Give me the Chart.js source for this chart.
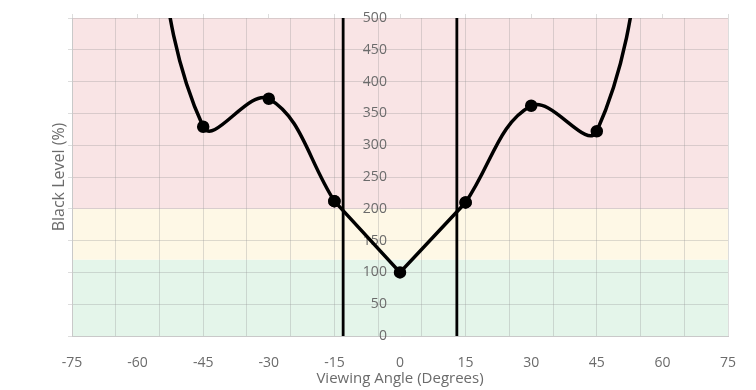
<!DOCTYPE html>
<html>
<head>
<meta charset="utf-8">
<script src="https://cdn.jsdelivr.net/npm/chart.js@4.4.1/dist/chart.umd.min.js"></script>
<style>
  html, body { margin: 0; padding: 0; background: #fff; }
  #wrap { width: 756px; height: 390px; }
</style>
</head>
<body>
<div id="wrap"><canvas id="chart"></canvas></div>
<script>
// measured points (degrees -> black level %)
const angles = [-60, -45, -30, -15, 0, 15, 30, 45, 60];
const blackLevel = [820, 329, 373, 212, 100, 210, 362, 322, 820];
// vertical markers where the curve crosses 200%
const cutoffAngles = [-13, 13];
// background zones
const bandLimits = [0, 120, 200, 500];
const bandColors = ['#e4f5ea', '#fef8e6', '#f9e4e5'];

const gridColor = 'rgba(150, 150, 150, 0.32)';
const textColor = '#6b6b6b';

const pts = angles.map((a, i) => ({ x: a, y: blackLevel[i] }));

const bandPlugin = {
    id: 'bands',
    beforeDraw(chart) {
        const { ctx, chartArea, scales: { y } } = chart;
        ctx.save();
        for (let i = 0; i < bandColors.length; i++) {
            const top = y.getPixelForValue(bandLimits[i + 1]);
            const bottom = y.getPixelForValue(bandLimits[i]);
            ctx.fillStyle = bandColors[i];
            ctx.fillRect(chartArea.left, top, chartArea.right - chartArea.left, bottom - top);
        }
        ctx.restore();
    }
};

const lineStyle = {
    borderColor: '#000',
    backgroundColor: '#000',
    borderWidth: 3.5,
    pointRadius: 4.5,
    pointHoverRadius: 4.5,
    fill: false
};

const datasets = [
    { ...lineStyle, data: pts.slice(0, 4), tension: 0.4 },
    { ...lineStyle, data: pts.slice(3, 6), tension: 0 },
    { ...lineStyle, data: pts.slice(5), tension: 0.4 }
];
cutoffAngles.forEach(a => {
    datasets.push({
        data: [{ x: a, y: bandLimits[0] }, { x: a, y: bandLimits[bandLimits.length - 1] }],
        borderColor: '#000',
        borderWidth: 2.8,
        pointRadius: 0,
        tension: 0
    });
});

new Chart(document.getElementById('chart'), {
    type: 'line',
    data: { datasets },
    options: {
        responsive: true,
        maintainAspectRatio: false,
        animation: false,
        layout: { padding: { left: 45, right: 28, top: 0, bottom: 0 } },
        elements: { line: { capBezierPoints: false } },
        plugins: { legend: { display: false }, tooltip: { enabled: false } },
        scales: {
            x: {
                type: 'linear', min: -75, max: 75, position: 'bottom',
                afterFit: s => { s.height = 54; },
                ticks: {
                    stepSize: 5, autoSkip: false, maxRotation: 0, padding: 19,
                    color: textColor, font: { family: 'Open Sans', size: 14 },
                    callback: v => (v % 15 === 0 ? v : '')
                },
                grid: {
                    drawTicks: false,
                    color: c => (c.tick && c.tick.value % 10 !== 0 ? gridColor : 'transparent')
                },
                border: { color: '#c9c9c9' },
                title: {
                    display: true, text: 'Viewing Angle (Degrees)', color: textColor,
                    font: { family: 'Open Sans', size: 15 }, padding: { top: 0, bottom: 2 }
                }
            },
            xTop: {
                type: 'linear', min: -75, max: 75, position: 'top',
                afterFit: s => { s.height = 18; },
                ticks: { stepSize: 15, display: false },
                grid: { drawOnChartArea: false, tickLength: 4, color: gridColor },
                border: { display: false }
            },
            y: {
                min: 0, max: 500, position: 'left',
                afterFit: s => { s.width = 27; },
                ticks: { stepSize: 50, display: false },
                grid: { color: gridColor, tickLength: 4 },
                border: { color: '#c9c9c9' },
                title: {
                    display: true, text: 'Black Level (%)', color: textColor,
                    font: { family: 'Open Sans', size: 16 }, padding: { top: 5, bottom: 0 }
                }
            },
            yMid: {
                min: 0, max: 500, position: { x: -3 },
                ticks: { stepSize: 50, color: textColor, font: { family: 'Open Sans', size: 14 } },
                grid: { display: false },
                border: { display: false }
            }
        }
    },
    plugins: [bandPlugin]
});
</script>
</body>
</html>
